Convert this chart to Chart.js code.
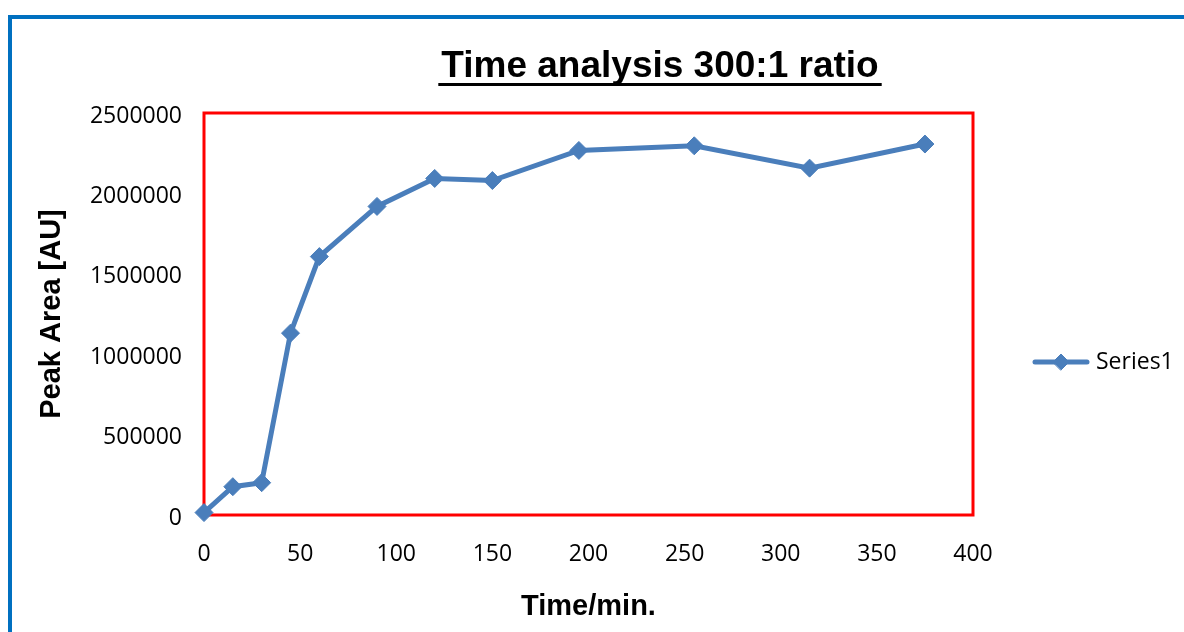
<!DOCTYPE html>
<html>
<head>
<meta charset="utf-8">
<script src="https://cdn.jsdelivr.net/npm/chart.js@4"></script>
<style>
  html, body { margin: 0; padding: 0; background: #fff; overflow: hidden; }
  #frame { position: absolute; left: 8px; top: 15px; width: 1300px; height: 700px;
           border-left: 4px solid #0070C0; border-top: 4px solid #0070C0; }
  #c { position: absolute; left: 0; top: 0; }
</style>
</head>
<body>
<div id="frame"></div>
<canvas id="c" width="1184" height="632"></canvas>
<script>
// Peak area of the 300:1 sample measured over time
const seriesName = 'Series1';
const timesMin = [0, 15, 30, 45, 60, 90, 120, 150, 195, 255, 315, 375];
const peakArea = [15000, 176000, 201000, 1131000, 1607000, 1919000, 2093000, 2080000, 2267000, 2296000, 2157000, 2307000];

const xTicks = [0, 50, 100, 150, 200, 250, 300, 350, 400];
const yTicks = [0, 500000, 1000000, 1500000, 2000000, 2500000];

const chartTitle = 'Time analysis 300:1 ratio';
const xTitle = 'Time/min.';
const yTitle = 'Peak Area [AU]';

const lineColor = '#4A7EBB';
const boldFont = '"Liberation Sans", Arial, sans-serif';

Chart.defaults.font.family = '"Open Sans", sans-serif';
Chart.defaults.color = '#000';

function drawDiamond(ctx, x, y, r) {
  ctx.beginPath();
  ctx.moveTo(x - r, y);
  ctx.lineTo(x, y - r);
  ctx.lineTo(x + r, y);
  ctx.lineTo(x, y + r);
  ctx.closePath();
  ctx.fill();
  ctx.stroke();
}

// Red plot frame, underlined title and a line+marker legend entry
const decorations = {
  id: 'decorations',
  beforeDatasetsDraw(chart) {
    const { ctx, chartArea: a } = chart;
    ctx.save();
    ctx.strokeStyle = '#FF0000';
    ctx.lineWidth = 3;
    ctx.strokeRect(a.left, a.top, a.right - a.left, a.bottom - a.top);
    ctx.restore();
  },
  afterDraw(chart) {
    const ctx = chart.ctx;
    ctx.save();
    // title
    ctx.font = 'bold 37px ' + boldFont;
    ctx.fillStyle = '#000';
    ctx.textAlign = 'center';
    ctx.textBaseline = 'alphabetic';
    const cx = 660, by = 77;
    ctx.fillText(chartTitle, cx, by);
    const w = ctx.measureText(chartTitle).width + 6;
    ctx.fillRect(cx - w / 2, by + 6, w, 3);

    // legend
    const ds = chart.data.datasets[0];
    const ly = 362;
    ctx.strokeStyle = ds.borderColor;
    ctx.lineWidth = 5;
    ctx.lineCap = 'round';
    ctx.beginPath();
    ctx.moveTo(1035, ly);
    ctx.lineTo(1087, ly);
    ctx.stroke();
    ctx.fillStyle = ds.pointBackgroundColor;
    ctx.lineWidth = 1;
    drawDiamond(ctx, 1061, ly, 8);
    ctx.fillStyle = '#000';
    ctx.font = '23px "Open Sans", sans-serif';
    ctx.textAlign = 'left';
    ctx.textBaseline = 'middle';
    ctx.fillText(ds.label, 1096, ly);
    ctx.restore();
  }
};

new Chart(document.getElementById('c'), {
  type: 'line',
  data: {
    datasets: [{
      label: seriesName,
      data: timesMin.map((t, i) => ({ x: t, y: peakArea[i] })),
      borderColor: lineColor,
      backgroundColor: lineColor,
      pointBackgroundColor: lineColor,
      pointBorderColor: lineColor,
      borderWidth: 5,
      tension: 0,
      pointStyle: 'rectRot',
      pointRadius: 9,
      pointBorderWidth: 1,
      clip: false
    }]
  },
  options: {
    responsive: false,
    animation: false,
    layout: { padding: { left: 31, top: 113, right: 211, bottom: 0 } },
    plugins: {
      legend: { display: false },
      title: { display: false },
      tooltip: { enabled: false }
    },
    scales: {
      x: {
        type: 'linear',
        min: 0,
        max: 400,
        afterBuildTicks: s => { s.ticks = xTicks.map(v => ({ value: v })); },
        afterFit: s => { s.height = 117; },
        grid: { display: false, drawTicks: false, tickLength: 0 },
        border: { display: false },
        ticks: { padding: 26, color: '#000', font: { size: 23 }, maxRotation: 0, autoSkip: false },
        title: {
          display: true, text: xTitle, color: '#000',
          font: { family: boldFont, weight: 'bold', size: 29 },
          padding: { top: 0, bottom: 8 }
        }
      },
      y: {
        min: 0,
        max: 2500000,
        afterBuildTicks: s => { s.ticks = yTicks.map(v => ({ value: v })); },
        afterFit: s => { s.width = 173; },
        grid: { display: false, drawTicks: false, tickLength: 0 },
        border: { display: false },
        ticks: { padding: 22, labelOffset: 3, color: '#000', font: { size: 23 }, callback: v => String(v) },
        title: {
          display: true, text: yTitle, color: '#000',
          font: { family: boldFont, weight: 'bold', size: 29 },
          padding: { top: 4, bottom: 0 }
        }
      }
    }
  },
  plugins: [decorations]
});
</script>
</body>
</html>
